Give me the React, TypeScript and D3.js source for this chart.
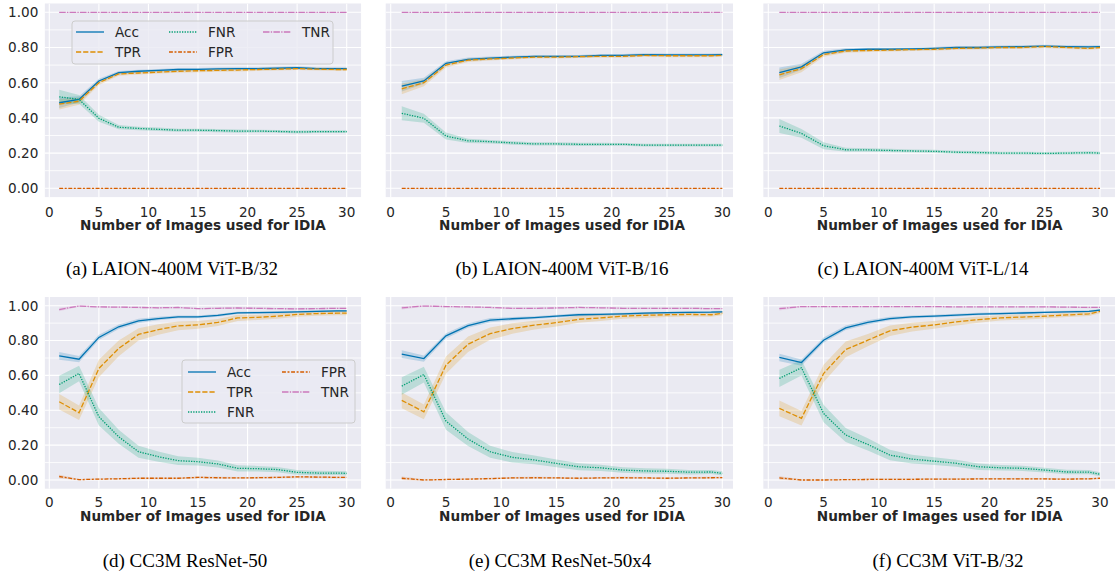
import React from "react";
import * as d3 from "d3";

// ---------- data ----------
const xs = [1, 3, 5, 7, 9, 11, 13, 15, 17, 19, 21, 23, 25, 27, 29, 30];
const seriesNames = ["Acc", "TPR", "FNR", "FPR", "TNR"];
const xTicks = [0, 5, 10, 15, 20, 25, 30];
const yTicks = [0, 0.2, 0.4, 0.6, 0.8, 1.0];
const yMinor = [0.1, 0.3, 0.5, 0.7, 0.9];
const captions = [
  "(a) LAION-400M ViT-B/32",
  "(b) LAION-400M ViT-B/16",
  "(c) LAION-400M ViT-L/14",
  "(d) CC3M ResNet-50",
  "(e) CC3M ResNet-50x4",
  "(f) CC3M ViT-B/32",
];
const xLabel = "Number of Images used for IDIA";

// panel a
const aAcc = [0.486, 0.505, 0.61, 0.657, 0.665, 0.67, 0.675, 0.676, 0.678, 0.68, 0.68, 0.682, 0.685, 0.68, 0.68, 0.68];
const aTpr = [0.478, 0.495, 0.6, 0.65, 0.655, 0.66, 0.665, 0.668, 0.67, 0.672, 0.675, 0.677, 0.68, 0.677, 0.675, 0.675];
const aFnr = [0.52, 0.505, 0.398, 0.347, 0.34, 0.335, 0.33, 0.33, 0.328, 0.325, 0.325, 0.323, 0.32, 0.322, 0.322, 0.322];
const aFpr = [0, 0, 0, 0, 0, 0, 0, 0, 0, 0, 0, 0, 0, 0, 0, 0];
const aTnr = [1, 1, 1, 1, 1, 1, 1, 1, 1, 1, 1, 1, 1, 1, 1, 1];
// panel b
const bAcc = [0.58, 0.61, 0.71, 0.733, 0.74, 0.745, 0.75, 0.75, 0.75, 0.755, 0.755, 0.76, 0.758, 0.758, 0.758, 0.76];
const bTpr = [0.565, 0.6, 0.7, 0.728, 0.735, 0.74, 0.745, 0.745, 0.748, 0.75, 0.75, 0.755, 0.753, 0.753, 0.753, 0.755];
const bFnr = [0.426, 0.398, 0.297, 0.27, 0.265, 0.258, 0.252, 0.252, 0.25, 0.25, 0.25, 0.245, 0.245, 0.245, 0.245, 0.245];
const bFpr = [0, 0, 0, 0, 0, 0, 0, 0, 0, 0, 0, 0, 0, 0, 0, 0];
const bTnr = [1, 1, 1, 1, 1, 1, 1, 1, 1, 1, 1, 1, 1, 1, 1, 1];
// panel c
const cAcc = [0.657, 0.69, 0.77, 0.786, 0.79, 0.79, 0.792, 0.795, 0.8, 0.8, 0.803, 0.805, 0.808, 0.805, 0.803, 0.805];
const cTpr = [0.645, 0.68, 0.76, 0.78, 0.783, 0.785, 0.788, 0.79, 0.795, 0.797, 0.8, 0.8, 0.805, 0.8, 0.795, 0.8];
const cFnr = [0.354, 0.312, 0.242, 0.219, 0.218, 0.215, 0.212, 0.21, 0.205, 0.203, 0.2, 0.2, 0.198, 0.2, 0.202, 0.2];
const cFpr = [0, 0, 0, 0, 0, 0, 0, 0, 0, 0, 0, 0, 0, 0, 0, 0];
const cTnr = [1, 1, 1, 1, 1, 1, 1, 1, 1, 1, 1, 1, 1, 1, 1, 1];
// panel d
const dAcc = [0.712, 0.693, 0.818, 0.879, 0.913, 0.926, 0.936, 0.936, 0.945, 0.959, 0.96, 0.962, 0.965, 0.968, 0.97, 0.97];
const dTpr = [0.449, 0.386, 0.64, 0.755, 0.835, 0.863, 0.884, 0.89, 0.904, 0.93, 0.933, 0.94, 0.95, 0.955, 0.957, 0.957];
const dFnr = [0.548, 0.611, 0.363, 0.248, 0.162, 0.134, 0.111, 0.105, 0.092, 0.067, 0.065, 0.06, 0.044, 0.04, 0.04, 0.038];
const dFpr = [0.02, 0.002, 0.005, 0.007, 0.01, 0.01, 0.01, 0.015, 0.013, 0.012, 0.013, 0.015, 0.018, 0.017, 0.015, 0.015];
const dTnr = [0.978, 0.998, 0.993, 0.992, 0.99, 0.988, 0.99, 0.983, 0.985, 0.987, 0.985, 0.983, 0.982, 0.983, 0.985, 0.985];
// panel e
const eAcc = [0.722, 0.697, 0.827, 0.886, 0.917, 0.925, 0.932, 0.94, 0.948, 0.95, 0.953, 0.957, 0.96, 0.962, 0.963, 0.965];
const eTpr = [0.457, 0.391, 0.659, 0.779, 0.84, 0.869, 0.888, 0.903, 0.922, 0.93, 0.94, 0.945, 0.948, 0.95, 0.948, 0.957];
const eFnr = [0.539, 0.605, 0.338, 0.235, 0.162, 0.13, 0.115, 0.095, 0.076, 0.07, 0.057, 0.052, 0.05, 0.045, 0.046, 0.038];
const eFpr = [0.01, 0.0, 0.003, 0.005, 0.008, 0.012, 0.013, 0.012, 0.01, 0.012, 0.013, 0.012, 0.01, 0.012, 0.013, 0.014];
const eTnr = [0.988, 0.998, 0.995, 0.993, 0.99, 0.985, 0.985, 0.987, 0.99, 0.988, 0.985, 0.985, 0.985, 0.985, 0.983, 0.983];
// panel f
const fAcc = [0.703, 0.674, 0.802, 0.873, 0.904, 0.926, 0.936, 0.94, 0.946, 0.952, 0.955, 0.958, 0.962, 0.965, 0.968, 0.975];
const fTpr = [0.411, 0.354, 0.611, 0.749, 0.802, 0.856, 0.877, 0.89, 0.907, 0.92, 0.93, 0.935, 0.94, 0.947, 0.953, 0.968];
const fFnr = [0.583, 0.644, 0.382, 0.258, 0.204, 0.143, 0.12, 0.108, 0.096, 0.076, 0.07, 0.067, 0.057, 0.046, 0.045, 0.033];
const fFpr = [0.012, 0.0, 0.0, 0.002, 0.003, 0.004, 0.004, 0.005, 0.005, 0.006, 0.006, 0.006, 0.006, 0.005, 0.007, 0.01];
const fTnr = [0.983, 0.995, 0.995, 0.995, 0.995, 0.995, 0.995, 0.995, 0.993, 0.993, 0.993, 0.993, 0.993, 0.992, 0.99, 0.99];

// confidence band half-widths
const laionAccErr = [0.03, 0.018, 0.012, 0.01, 0.009, 0.008, 0.008, 0.008, 0.008, 0.008, 0.008, 0.008, 0.008, 0.008, 0.008, 0.008];
const laionTprErr = [0.03, 0.02, 0.013, 0.01, 0.009, 0.008, 0.008, 0.008, 0.008, 0.008, 0.008, 0.008, 0.008, 0.008, 0.008, 0.008];
const laionFnrErr = [0.04, 0.025, 0.02, 0.012, 0.01, 0.01, 0.009, 0.009, 0.009, 0.009, 0.008, 0.008, 0.008, 0.008, 0.008, 0.008];
const laionFlatErr = [0.002, 0.002, 0.002, 0.002, 0.002, 0.002, 0.002, 0.002, 0.002, 0.002, 0.002, 0.002, 0.002, 0.002, 0.002, 0.002];
const ccAccErr = [0.022, 0.018, 0.015, 0.013, 0.012, 0.01, 0.008, 0.008, 0.008, 0.007, 0.007, 0.007, 0.006, 0.006, 0.006, 0.006];
const ccTprErr = [0.045, 0.042, 0.05, 0.045, 0.035, 0.03, 0.025, 0.022, 0.02, 0.018, 0.015, 0.015, 0.013, 0.012, 0.012, 0.012];
const ccFnrErr = [0.05, 0.045, 0.05, 0.04, 0.035, 0.03, 0.025, 0.022, 0.02, 0.018, 0.016, 0.015, 0.014, 0.013, 0.012, 0.012];
const ccFprErr = [0.01, 0.004, 0.004, 0.004, 0.005, 0.005, 0.005, 0.005, 0.005, 0.005, 0.005, 0.005, 0.005, 0.005, 0.005, 0.005];
const ccTnrErr = [0.01, 0.004, 0.004, 0.004, 0.004, 0.004, 0.004, 0.004, 0.004, 0.004, 0.004, 0.004, 0.004, 0.004, 0.004, 0.004];

// ---------- styles ----------
const colors = ["#0173B2", "#DE8F05", "#029E73", "#D55E00", "#CC78BC"];
const LW = 1.3;
const dashes = [
  "",
  `${4 * LW},${1.5 * LW}`,
  `${1 * LW},${1 * LW}`,
  `${3 * LW},${1.25 * LW},${1.5 * LW},${1.25 * LW}`,
  `${5 * LW},${1 * LW},${1 * LW},${1 * LW}`,
];
const BG = "#EAEAF2";
const TXT = "#262626";
const FS = 13.6;

type Panel = {
  vals: number[][];
  errs: number[][];
  x0: number;
  x30: number;
  right: number;
  row: number;
  showY: boolean;
  legend: "a" | "d" | null;
  capX: number;
};

const laionErrs = [laionAccErr, laionTprErr, laionFnrErr, laionFlatErr, laionFlatErr];
const ccErrs = [ccAccErr, ccTprErr, ccFnrErr, ccFprErr, ccTnrErr];

const panels: Panel[] = [
  { vals: [aAcc, aTpr, aFnr, aFpr, aTnr], errs: laionErrs, x0: 49.3, x30: 346.7, right: 362, row: 0, showY: true, legend: "a", capX: 172 },
  { vals: [bAcc, bTpr, bFnr, bFpr, bTnr], errs: laionErrs, x0: 390.7, x30: 722.3, right: 733, row: 0, showY: false, legend: null, capX: 562 },
  { vals: [cAcc, cTpr, cFnr, cFpr, cTnr], errs: laionErrs, x0: 768.3, x30: 1100, right: 1115, row: 0, showY: false, legend: null, capX: 923 },
  { vals: [dAcc, dTpr, dFnr, dFpr, dTnr], errs: ccErrs, x0: 49.3, x30: 346.7, right: 362, row: 1, showY: true, legend: "d", capX: 185 },
  { vals: [eAcc, eTpr, eFnr, eFpr, eTnr], errs: ccErrs, x0: 390.7, x30: 722.3, right: 733, row: 1, showY: false, legend: null, capX: 560 },
  { vals: [fAcc, fTpr, fFnr, fFpr, fTnr], errs: ccErrs, x0: 768.3, x30: 1100, right: 1115, row: 1, showY: false, legend: null, capX: 948 },
];

const rows = [
  { y0: 188.3, y1: 12.3, tickBase: 216.5, labelBase: 230.3, capBase: 275 },
  { y0: 480, y1: 305.7, tickBase: 507, labelBase: 521, capBase: 567 },
];

function Legend({ kind }: { kind: "a" | "d" }) {
  const box = kind === "a" ? { x: 72, y: 21, w: 261, h: 43 } : { x: 182, y: 360, w: 173, h: 63 };
  const items =
    kind === "a"
      ? [
          { i: 0, lx: 76, y: 32 },
          { i: 1, lx: 76, y: 52 },
          { i: 2, lx: 169, y: 32 },
          { i: 3, lx: 169, y: 52 },
          { i: 4, lx: 263, y: 32 },
        ]
      : [
          { i: 0, lx: 188, y: 372 },
          { i: 1, lx: 188, y: 392 },
          { i: 2, lx: 188, y: 412 },
          { i: 3, lx: 282, y: 372 },
          { i: 4, lx: 282, y: 392 },
        ];
  return (
    <g>
      <rect x={box.x} y={box.y} width={box.w} height={box.h} rx={3} fill={BG} fillOpacity={0.8} stroke="#CCCCCC" strokeWidth={1} />
      {items.map((it) => (
        <g key={it.i}>
          <line x1={it.lx} x2={it.lx + 28} y1={it.y} y2={it.y} stroke={colors[it.i]} strokeWidth={LW} strokeDasharray={dashes[it.i] || undefined} />
          <text x={it.lx + 39} y={it.y} dy="0.36em" fontSize={FS} fill={TXT} fontFamily="DejaVu Sans">
            {seriesNames[it.i]}
          </text>
        </g>
      ))}
    </g>
  );
}

function PanelView({ p, idx }: { p: Panel; idx: number }) {
  const r = rows[p.row];
  const x = d3.scaleLinear().domain([0, 30]).range([p.x0, p.x30]);
  const y = d3.scaleLinear().domain([0, 1]).range([r.y0, r.y1]);
  const left = x(-0.45);
  const fullRight = x(31.45);
  const right = Math.min(fullRight, p.right);
  const top = y(1.05);
  const bottom = y(-0.05);
  const clipId = `clip${idx}`;
  const line = d3
    .line<number>()
    .x((_, i) => x(xs[i]))
    .y((d) => y(d));
  return (
    <g>
      <defs>
        <clipPath id={clipId}>
          <rect x={left} y={top} width={right - left} height={bottom - top} />
        </clipPath>
      </defs>
      <rect x={left} y={top} width={right - left} height={bottom - top} fill={BG} />
      <g clipPath={`url(#${clipId})`}>
        {yMinor.map((t) => (
          <line key={"m" + t} x1={left} x2={right} y1={y(t)} y2={y(t)} stroke="#fff" strokeWidth={0.8} />
        ))}
        {yTicks.map((t) => (
          <line key={"y" + t} x1={left} x2={right} y1={y(t)} y2={y(t)} stroke="#fff" strokeWidth={1.1} />
        ))}
        {xTicks.map((t) => (
          <line key={"x" + t} x1={x(t)} x2={x(t)} y1={top} y2={bottom} stroke="#fff" strokeWidth={1.1} />
        ))}
        {p.vals.map((v, si) => {
          const err = p.errs[si];
          const area = d3
            .area<number>()
            .x((_, i) => x(xs[i]))
            .y0((d, i) => y(d - err[i]))
            .y1((d, i) => y(d + err[i]));
          return <path key={"b" + si} d={area(v) || ""} fill={colors[si]} fillOpacity={0.2} stroke="none" />;
        })}
        {p.vals.map((v, si) => (
          <path
            key={"l" + si}
            d={line(v) || ""}
            fill="none"
            stroke={colors[si]}
            strokeWidth={LW}
            strokeDasharray={dashes[si] || undefined}
          />
        ))}
      </g>
      {xTicks.map((t) => (
        <text key={"xt" + t} x={x(t)} y={r.tickBase} textAnchor="middle" fontSize={FS} fill={TXT} fontFamily="DejaVu Sans">
          {t}
        </text>
      ))}
      {p.showY &&
        yTicks.map((t) => (
          <text key={"yt" + t} x={38.3} y={y(t)} dy="0.36em" textAnchor="end" fontSize={FS} fill={TXT} fontFamily="DejaVu Sans">
            {t.toFixed(2)}
          </text>
        ))}
      <text x={(left + fullRight) / 2} y={r.labelBase} textAnchor="middle" fontSize={FS} fontWeight="bold" fill={TXT} fontFamily="DejaVu Sans">
        {xLabel}
      </text>
      {p.legend && <Legend kind={p.legend} />}
      <text x={p.capX} y={r.capBase} textAnchor="middle" fontSize={19} fill="#000" fontFamily="Liberation Serif">
        {captions[idx]}
      </text>
    </g>
  );
}

export default function App() {
  return (
    <div style={{ position: "absolute", left: 0, top: 0 }}>
      <svg width={1115} height={575} style={{ display: "block", background: "#fff" }}>
        {panels.map((p, i) => (
          <PanelView key={i} p={p} idx={i} />
        ))}
      </svg>
    </div>
  );
}
